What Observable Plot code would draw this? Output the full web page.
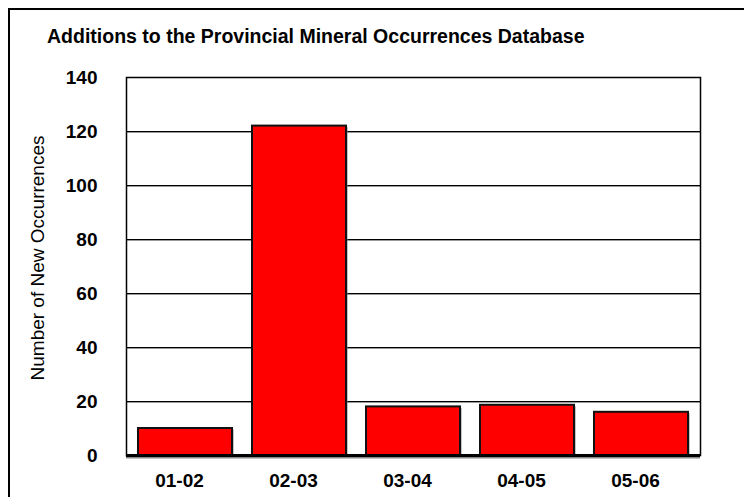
<!DOCTYPE html>
<html>
<head>
<meta charset="utf-8">
<script src="https://cdn.jsdelivr.net/npm/d3@7"></script>
<script src="https://cdn.jsdelivr.net/npm/@observablehq/plot@0.6"></script>
<style>
  html, body { margin: 0; padding: 0; background: #fff; }
  #wrap { position: relative; width: 744px; height: 497px; overflow: hidden; font-family: "Liberation Sans", Arial, sans-serif; }
  #frame { position: absolute; left: 8px; top: 8px; width: 760px; height: 520px; border-top: 2px solid #000; border-left: 2px solid #000; }
  #title { position: absolute; left: 47px; top: 25px; font-weight: bold; font-size: 19.5px; line-height: 22px; color: #000; white-space: nowrap; }
  #ylabel { position: absolute; left: 38px; top: 258px; transform: translate(-50%, -50%) rotate(-90deg); font-size: 19px; white-space: nowrap; color: #000; }
  #chart { position: absolute; left: 0; top: 0; }
</style>
</head>
<body>
<div id="wrap">
  <div id="frame"></div>
  <div id="chart"></div>
  <div id="title"></div>
  <div id="ylabel"></div>
</div>
<script>
const titleText = "Additions to the Provincial Mineral Occurrences Database";
const yLabelText = "Number of New Occurrences";
const years = ["01-02", "02-03", "03-04", "04-05", "05-06"];
const counts = [10, 122, 18, 18.6, 16];
const yTicks = [0, 20, 40, 60, 80, 100, 120, 140];
const gridTicks = [20, 40, 60, 80, 100, 120];

const data = years.map((y, i) => ({year: y, count: counts[i]}));

document.getElementById("title").textContent = titleText;
document.getElementById("ylabel").textContent = yLabelText;

const chart = Plot.plot({
  width: 744,
  height: 497,
  marginLeft: 126,
  marginRight: 44,
  marginTop: 77,
  marginBottom: 42,
  style: {fontFamily: "Liberation Sans, Arial, sans-serif", background: "transparent"},
  x: {domain: years, paddingInner: 0.175, paddingOuter: 0.094, label: null},
  y: {domain: [0, 140], label: null},
  marks: [
    Plot.ruleY(gridTicks, {stroke: "#999", strokeWidth: 1, dy: 1}),
    Plot.ruleY(gridTicks, {stroke: "#000", strokeWidth: 1}),
    Plot.barY(data, {x: "year", y: "count", fill: "#888", dx: 1.5, dy: 1.5}),
    Plot.barY(data, {x: "year", y: "count", fill: "#ff0000", stroke: "#111", strokeWidth: 2}),
    Plot.frame({stroke: "#000", strokeWidth: 1.5}),
    Plot.ruleY([0], {stroke: "#888", strokeWidth: 3, dy: 1.5}),
    Plot.ruleY([0], {stroke: "#000", strokeWidth: 3}),
    Plot.axisY(yTicks, {tickSize: 0, tickPadding: 29, fontSize: 19, fontWeight: "bold", fill: "#000", label: null}),
    Plot.axisX({tickSize: 0, tickPadding: 18, dx: -6, fontSize: 19, fontWeight: "bold", fill: "#000", label: null})
  ]
});
document.getElementById("chart").appendChild(chart);
</script>
</body>
</html>
